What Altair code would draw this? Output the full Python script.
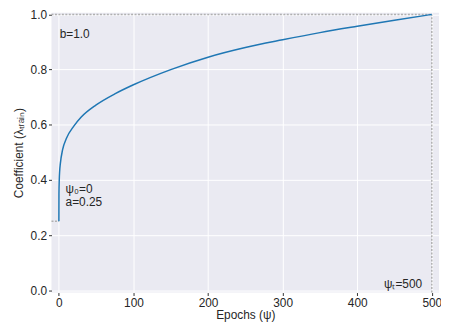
import altair as alt
import pandas as pd

# values
epochs = [0, 0.1, 0.5, 1, 2, 5, 10, 20, 30, 50, 75, 100, 150, 200, 250, 300, 350, 400, 450, 500]
coef = [0.25, 0.35, 0.40, 0.43, 0.46, 0.51, 0.55, 0.595, 0.628, 0.672, 0.712, 0.745,
        0.800, 0.845, 0.880, 0.908, 0.934, 0.957, 0.979, 1.0]
a_val = 0.25
b_val = 1.0
psi0 = 0
psit = 500
x_domain = [-9.9, 509.7]
y_domain = [-0.008, 1.006]
x_ticks = [0, 100, 200, 300, 400, 500]
y_ticks = [0.0, 0.2, 0.4, 0.6, 0.8, 1.0]

FONT = "Liberation Sans"
GRAY = "#b0b0b0"
TXT = "#262626"

curve = pd.DataFrame({"epoch": epochs, "coef": coef})

xs = alt.Scale(domain=x_domain, nice=False, zero=False)
ys = alt.Scale(domain=y_domain, nice=False, zero=False)

base = alt.Chart(curve)

line = base.mark_line(color="#1f77b4", strokeWidth=1.5, interpolate="monotone").encode(
    x=alt.X("epoch:Q", scale=xs,
            axis=alt.Axis(title="Epochs (ψ)", values=x_ticks, format="d")),
    y=alt.Y("coef:Q", scale=ys,
            axis=alt.Axis(title="Coefficient (λₜᵣₐᵢₙ)", values=y_ticks, format=".1f")),
)

hlines = pd.DataFrame({
    "x1": [x_domain[0], x_domain[0]],
    "x2": [psit, psi0],
    "y": [b_val, a_val],
})
hrule = alt.Chart(hlines).mark_rule(color=GRAY, strokeWidth=1.5, strokeDash=[2, 1.5]).encode(
    x=alt.X("x1:Q", scale=xs), x2="x2:Q", y=alt.Y("y:Q", scale=ys))

vlines = pd.DataFrame({"x": [psit], "y1": [y_domain[0]], "y2": [b_val]})
vrule = alt.Chart(vlines).mark_rule(color=GRAY, strokeWidth=1.5, strokeDash=[2, 1.5]).encode(
    x=alt.X("x:Q", scale=xs), y=alt.Y("y1:Q", scale=ys), y2="y2:Q")

labels = pd.DataFrame({
    "x": [1, 9, 9, 487],
    "y": [0.93, 0.368, 0.32, 0.022],
    "t": ["b=1.0", "ψ₀=0", "a=0.25", "ψₜ=500"],
    "al": ["left", "left", "left", "right"],
})
txt_left = alt.Chart(labels[labels.al == "left"]).mark_text(
    align="left", baseline="middle", font=FONT, fontSize=12, color=TXT).encode(
    x=alt.X("x:Q", scale=xs), y=alt.Y("y:Q", scale=ys), text="t:N")
txt_right = alt.Chart(labels[labels.al == "right"]).mark_text(
    align="right", baseline="middle", font=FONT, fontSize=12, color=TXT).encode(
    x=alt.X("x:Q", scale=xs), y=alt.Y("y:Q", scale=ys), text="t:N")

chart = alt.layer(hrule, vrule, line, txt_left, txt_right).properties(
    width=392, height=283,
    autosize=alt.AutoSizeParams(type="none"),
    padding={"left": 44, "top": 3, "right": 2, "bottom": 30},
).configure_view(
    fill="#eaeaf2", stroke=None
).configure_axis(
    grid=True, gridColor="white", gridWidth=1,
    domain=False, tickSize=3, tickColor="#333333", tickWidth=1,
    labelFont=FONT, labelFontSize=12, labelColor=TXT, labelPadding=2,
    titleFont=FONT, titleFontSize=12, titleColor=TXT, titleFontWeight="normal",
).configure_axisY(titlePadding=5).configure_axisX(titlePadding=1)

chart.save("out.html", embed_options={"renderer": "svg", "actions": False})
